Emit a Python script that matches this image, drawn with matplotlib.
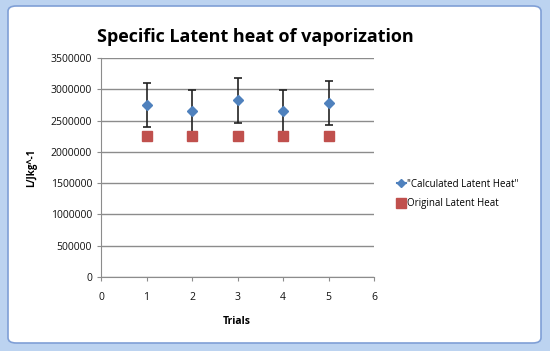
import matplotlib
matplotlib.use("Agg")
import matplotlib.pyplot as plt
from matplotlib.patches import Rectangle, FancyBboxPatch
from matplotlib.lines import Line2D

trials = [1, 2, 3, 4, 5]
calculated = [2755000, 2653000, 2824000, 2653000, 2781000]
calc_err = [350000, 340000, 355000, 340000, 352000]
original = [2260000, 2260000, 2260000, 2260000, 2260000]
yticks = [0, 500000, 1000000, 1500000, 2000000, 2500000, 3000000, 3500000]
xticks = [0, 1, 2, 3, 4, 5, 6]

W, H = 550, 351
fig = plt.figure(figsize=(W / 100, H / 100), dpi=100)
fig.patch.set_facecolor("white")

def fx(px):
    return px / W
def fy(py):
    return 1 - py / H

frame_col = "#bcd3f0"
fig.patches.append(Rectangle((0, 0), 1, 1, transform=fig.transFigure,
                             facecolor=frame_col, edgecolor="none", zorder=-3))
fig.patches.append(FancyBboxPatch((fx(8), fy(343)), fx(541) - fx(8), fy(6) - fy(343),
                                  boxstyle="round,pad=0,rounding_size=0.015",
                                  transform=fig.transFigure, facecolor="white",
                                  edgecolor="#7f9fd6", linewidth=1.2, zorder=-2))

ax = fig.add_axes([fx(101), fy(277), fx(374) - fx(101), fy(58) - fy(277)])
ax.set_facecolor("none")

ax.errorbar(trials, calculated, yerr=calc_err, fmt="D", color="#4f81bd",
            markersize=5, ecolor="#222222", elinewidth=1.2, capsize=3,
            capthick=1.2, zorder=3)
ax.plot(trials, original, "s", color="#c0504d", markersize=7, zorder=3)

ax.set_xlim(0, 6)
ax.set_ylim(0, 3500000)
ax.set_xticks(xticks)
ax.set_yticks(yticks)
ax.set_xticklabels([str(t) for t in xticks])
ax.set_yticklabels([str(t) for t in yticks])
ax.yaxis.grid(True, color="#8c8c8c", linewidth=1)
ax.set_axisbelow(True)
for s in ["top", "right"]:
    ax.spines[s].set_visible(False)
for s in ["left", "bottom"]:
    ax.spines[s].set_color("#8c8c8c")
ax.tick_params(axis="both", colors="#8c8c8c", length=3, labelsize=7.5,
               labelcolor="#111111", direction="out")
ax.tick_params(axis="x", pad=8)
for lab in ax.get_xticklabels() + ax.get_yticklabels():
    lab.set_family("Open Sans")

fig.text(fx(255), fy(37), "Specific Latent heat of vaporization", ha="center",
         va="center", fontsize=13, fontweight="bold", family="Open Sans")
fig.text(fx(32), fy(168), "L/Jkg^-1", ha="center", va="center", rotation=90,
         fontsize=7, fontweight="bold", family="Open Sans")
fig.text(fx(237), fy(321), "Trials", ha="center", va="center",
         fontsize=7.5, fontweight="bold", family="Open Sans")

handles = [
    Line2D([], [], color="#4f81bd", marker="D", markersize=4.5, linewidth=1.5),
    Line2D([], [], color="#c0504d", marker="s", markersize=7, linestyle="none"),
]
labels = ['"Calculated Latent Heat"', "Original Latent Heat"]
fig.legend(handles, labels, loc="center left", bbox_to_anchor=(fx(388), fy(194)),
           frameon=False, handlelength=0.9, handletextpad=0.2,
           labelspacing=0.9, prop={"family": "Open Sans", "size": 7})

fig.savefig("out.png", dpi=100)
